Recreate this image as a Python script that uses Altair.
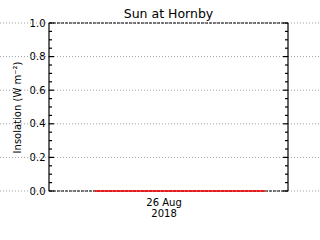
import altair as alt
import pandas as pd

# data
hours = [4.6, 8.0, 12.0, 16.0, 21.7]
insolation = [0.0, 0.0, 0.0, 0.0, 0.0]
major_ticks = [0.0, 0.2, 0.4, 0.6, 0.8, 1.0]
minor_ticks = [0.05, 0.1, 0.15, 0.25, 0.3, 0.35, 0.45, 0.5, 0.55, 0.65, 0.7, 0.75,
               0.85, 0.9, 0.95]
x_tick_hours = [11.5]
x_tick_label = ["26 Aug", "2018"]

W, H = 239, 168
FONT = "DejaVu Sans"

df = pd.DataFrame({"h": hours, "v": insolation})
dmaj = pd.DataFrame({"v": major_ticks})
dmin = pd.DataFrame({"v": minor_ticks})

xs = alt.Scale(domain=[0, 24], nice=False, zero=False)
ys = alt.Scale(domain=[0, 1], nice=False)

grid = alt.Chart(dmaj).mark_rule(color="#a0a0a0", strokeDash=[1, 2], strokeWidth=1).encode(
    y=alt.Y("v:Q", scale=ys, axis=None),
    x=alt.value(-49), x2=alt.value(W + 32),
)

frame_lr = alt.Chart(pd.DataFrame({"x": [0, W]})).mark_rule(color="black", strokeWidth=1.2).encode(
    x=alt.X("x:Q", scale=alt.Scale(domain=[0, W], nice=False), axis=None),
    y=alt.value(0), y2=alt.value(H),
)

frame_tb = alt.Chart(pd.DataFrame({"y": [0, H]})).mark_rule(
    color="black", strokeWidth=1, strokeDash=[3, 1]
).encode(
    y=alt.Y("y:Q", scale=alt.Scale(domain=[H, 0], nice=False), axis=None),
    x=alt.value(0), x2=alt.value(W),
)

maj_l = alt.Chart(dmaj).mark_rule(color="black", strokeWidth=1.2).encode(
    y=alt.Y("v:Q", scale=ys, axis=None), x=alt.value(0), x2=alt.value(5))
maj_r = alt.Chart(dmaj).mark_rule(color="black", strokeWidth=1.2).encode(
    y=alt.Y("v:Q", scale=ys, axis=None), x=alt.value(W - 5), x2=alt.value(W))
min_l = alt.Chart(dmin).mark_rule(color="black", strokeWidth=1.2).encode(
    y=alt.Y("v:Q", scale=ys, axis=None), x=alt.value(0), x2=alt.value(3))
min_r = alt.Chart(dmin).mark_rule(color="black", strokeWidth=1.2).encode(
    y=alt.Y("v:Q", scale=ys, axis=None), x=alt.value(W - 3), x2=alt.value(W))

line = alt.Chart(df).mark_line(color="red", strokeWidth=1.5).encode(
    x=alt.X("h:Q", scale=xs, axis=alt.Axis(
        values=x_tick_hours, title=None, grid=False, ticks=False, domain=False,
        labelExpr=str(x_tick_label).replace("'", '"'),
        labelFont=FONT, labelFontSize=10, labelColor="black", labelPadding=6,
        labelLineHeight=11,
    )),
    y=alt.Y("v:Q", scale=ys, axis=alt.Axis(
        values=major_ticks, format=".1f", title="Insolation (W m⁻²)",
        grid=False, ticks=False, domain=False,
        labelFont=FONT, labelFontSize=10, labelColor="black", labelPadding=4,
        titleFont=FONT, titleFontSize=10, titleFontWeight="normal", titleColor="black",
        titlePadding=7,
    )),
)

chart = alt.layer(grid, frame_lr, frame_tb, maj_l, maj_r, min_l, min_r, line).properties(
    width=W, height=H,
    title=alt.TitleParams("Sun at Hornby", font=FONT, fontSize=12.5, fontWeight="normal",
                          color="black", anchor="middle", offset=-2),
    autosize=alt.AutoSizeParams(type="none"),
    padding={"left": 49, "top": 23, "right": 32, "bottom": 49},
    background="white",
).resolve_scale(x="independent", y="independent").configure_view(stroke=None)

chart.save("out.html", embed_options={"renderer": "svg", "actions": False})
